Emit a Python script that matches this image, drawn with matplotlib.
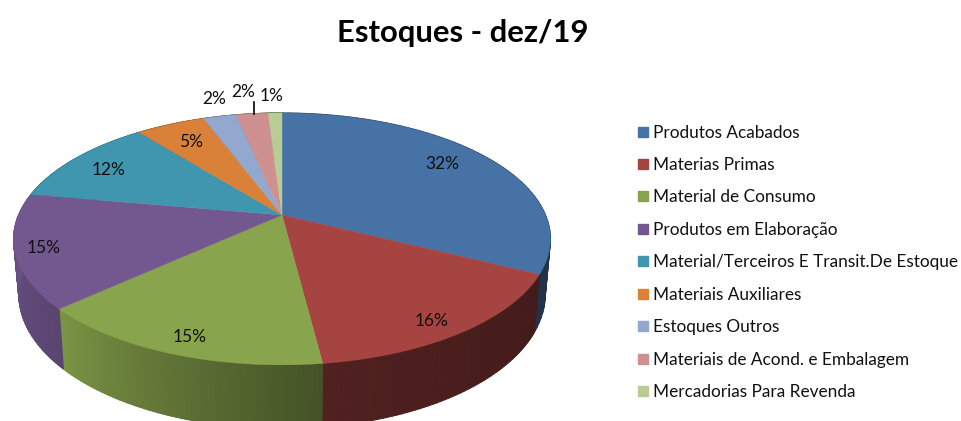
#!/usr/bin/python

'''
Estoques - dez/19, pie drawn with a perspective so it looks like the 3D one
'''

import numpy as np
import matplotlib.pyplot as plt
from matplotlib.collections import PolyCollection
from matplotlib.patches import Rectangle

categories = ['Produtos Acabados', 'Materias Primas', 'Material de Consumo',
              'Produtos em Elaboração', 'Material/Terceiros E Transit.De Estoque',
              'Materiais Auxiliares', 'Estoques Outros',
              'Materiais de Acond. e Embalagem', 'Mercadorias Para Revenda']
values = [32.4, 15.6, 15.2, 14.6, 11.5, 5.0, 2.4, 2.3, 1.0]
colors = ['#4672A6', '#A64441', '#88A44C', '#735890', '#4096AE',
          '#D98139', '#92A8CE', '#CE9190', '#B9CC95']
# how dark the side wall gets, at start and end of each slice
wall_shade = [(.45, .45), (.40, .48), (.50, .90), (.78, .95), (.6, .6),
              (.6, .6), (.6, .6), (.6, .6), (.6, .6)]
# label anchors in pixels, same order as values
label_pos = [(442, 164), (432, 321), (190, 337), (44, 248), (109, 170),
             (191, 142), (214, 99), (243, 92), (272, 96)]

W, H = 961, 421
CX, CY = 282, 215
A, B, K = 263.5, 121.4, .19   # x radius, y radius, perspective
DROP, SHRINK = 55, 1.02       # wall height, lower rim is a bit farther away


def project(t, r=1., lower=False):
    x = r*np.sin(t)
    y = r*np.cos(t)
    w = 1 + K*y
    if lower:
        w = w*SHRINK
        return CX + A*x/w, CY - B*y/w + DROP/w
    return CX + A*x/w, CY - B*y/w


fig = plt.figure(figsize=(W/100, H/100), dpi=100)
ax = fig.add_axes([0, 0, 1, 1])
ax.set_xlim(0, W)
ax.set_ylim(H, 0)
ax.axis('off')

edges = 2*np.pi*np.cumsum([0] + values)/sum(values)

# side wall first, the top covers whatever is behind it
quads = []
quad_colors = []
base = np.array([plt.matplotlib.colors.to_rgb(c) for c in colors])
for i in range(len(values)):
    ts = np.linspace(edges[i], edges[i+1], 60)
    shades = np.linspace(wall_shade[i][0], wall_shade[i][1], len(ts)-1)
    for j in range(len(ts)-1):
        x0, y0 = project(ts[j])
        x1, y1 = project(ts[j+1])
        x2, y2 = project(ts[j+1], lower=True)
        x3, y3 = project(ts[j], lower=True)
        quads.append([(x0, y0), (x1, y1), (x2, y2), (x3, y3)])
        quad_colors.append(base[i]*shades[j])
ax.add_collection(PolyCollection(quads, facecolors=quad_colors, edgecolors=quad_colors,
                                 linewidths=.8, zorder=1))

# top face
for i in range(len(values)):
    ts = np.linspace(edges[i], edges[i+1], 120)
    px, py = project(ts)
    ax.fill(np.r_[CX, px], np.r_[CY, py], color=colors[i], lw=.3, zorder=2)

font = 'Lato'
for txt_v, (lx, ly) in zip(values, label_pos):
    ax.text(lx, ly, '%.0f%%' % txt_v, ha='center', va='center', fontsize=12.5,
            family=font, color='#111111', zorder=3)
# leader line of the 2% label
ax.plot([254, 254], [102, 114], color='black', lw=1.2, zorder=3)

ax.text(463, 33, 'Estoques - dez/19', ha='center', va='center', fontsize=22.3,
        fontweight='bold', family=font, color='black')

# legend
for i, name in enumerate(categories):
    ly = 131.5 + i*32.45
    ax.add_patch(Rectangle((638, ly-5), 10, 10, color=colors[i], zorder=3))
    ax.text(653, ly+1, name, ha='left', va='center', fontsize=12.4, family=font, color='#111111')

fig.savefig('out.png', dpi=100)
